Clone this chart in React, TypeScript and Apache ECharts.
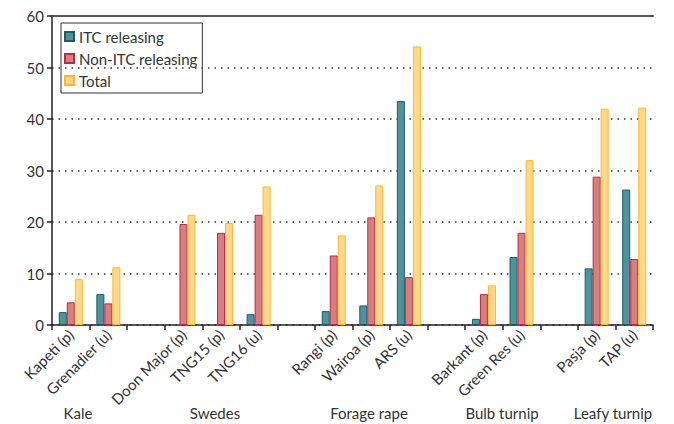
import React, { useEffect, useRef } from "react";
import * as echarts from "echarts";

const categories = [
  "Kapeti (p)", "Grenadier (u)", "",
  "Doon Major (p)", "TNG15 (p)", "TNG16 (u)", " ",
  "Rangi (p)", "Wairoa (p)", "ARS (u)", "  ",
  "Barkant (p)", "Green Res (u)", "   ",
  "Pasja (p)", "TAP (u)",
];
const itcReleasing = [2.5, 6.0, null, null, null, 2.1, null, 2.7, 3.8, 43.5, null, 1.2, 13.2, null, 11.0, 26.3];
const nonItcReleasing = [4.4, 4.2, null, 19.6, 17.9, 21.4, null, 13.5, 20.9, 9.3, null, 6.0, 17.9, null, 28.8, 12.8];
const total = [8.9, 11.2, null, 21.4, 19.8, 26.9, null, 17.4, 27.1, 54.1, null, 7.7, 32.0, null, 42.0, 42.2];
const groupLabels = ["Kale", "Swedes", "Forage rape", "Bulb turnip", "Leafy turnip"];
const groupCenters = [78, 215, 369, 502, 613];
const yTicks = [0, 60, 10];

const FONT = "Lato, 'Open Sans', sans-serif";

export default function App() {
  const ref = useRef<HTMLDivElement>(null);
  useEffect(() => {
    if (!ref.current) return;
    const chart = echarts.init(ref.current, null, { renderer: "svg" });
    const barStyle = (fill: string, border: string) => ({
      color: fill,
      borderColor: border,
      borderWidth: 1,
    });
    chart.setOption({
      animation: false,
      textStyle: { fontFamily: FONT },
      grid: { left: 52, right: 21, top: 16, bottom: 99 },
      legend: {
        orient: "vertical",
        left: 61,
        top: 23,
        itemWidth: 9,
        itemHeight: 9,
        itemGap: 7,
        padding: [6, 5, 5, 3],
        borderColor: "#333",
        borderWidth: 1,
        icon: "rect",
        textStyle: { fontSize: 15, color: "#333", fontFamily: FONT, padding: [0, 0, 0, 0] },
        data: ["ITC releasing", "Non-ITC releasing", "Total"],
      },
      xAxis: [
        {
          type: "category",
          data: categories,
          axisLine: { lineStyle: { color: "#222", width: 1.5 } },
          axisTick: { show: true, length: 5, lineStyle: { color: "#222", width: 1.5 } },
          axisLabel: {
            rotate: 45,
            fontSize: 15,
            color: "#333",
            fontFamily: FONT,
            margin: 7,
            interval: 0,
          },
        },
        {
          type: "category",
          position: "top",
          data: categories,
          axisLine: { show: true, lineStyle: { color: "#555", width: 2 } },
          axisTick: { show: false },
          axisLabel: { show: false },
        },
      ],
      yAxis: {
        type: "value",
        min: yTicks[0],
        max: yTicks[1],
        interval: yTicks[2],
        axisLine: { show: true, lineStyle: { color: "#222", width: 1.5 } },
        axisTick: { show: true, length: 5, lineStyle: { color: "#222", width: 1.5 } },
        axisLabel: { fontSize: 15, color: "#333", fontFamily: FONT, margin: 8 },
        splitLine: {
          show: true,
          lineStyle: { color: "#333", type: [1.5, 5], width: 1.5 },
        },
      },
      series: [
        {
          name: "ITC releasing",
          type: "bar",
          data: itcReleasing,
          barWidth: 8,
          barGap: "0%",
          itemStyle: barStyle("#4f949c", "#1c5d66"),
        },
        {
          name: "Non-ITC releasing",
          type: "bar",
          data: nonItcReleasing,
          barWidth: 8,
          barGap: "0%",
          itemStyle: barStyle("#d6807d", "#c2264a"),
        },
        {
          name: "Total",
          type: "bar",
          data: total,
          barWidth: 8,
          barGap: "0%",
          itemStyle: barStyle("#ffd88a", "#fdb92a"),
        },
      ],
      graphic: groupLabels.map((t, i) => ({
        type: "text",
        x: groupCenters[i],
        y: 413,
        style: {
          text: t,
          fontSize: 15,
          fill: "#333",
          fontFamily: FONT,
          align: "center",
          verticalAlign: "middle",
        },
      })),
    });
    return () => chart.dispose();
  }, []);
  return <div ref={ref} style={{ width: 674, height: 424, position: "absolute", left: 0, top: 0, background: "#fff" }} />;
}
